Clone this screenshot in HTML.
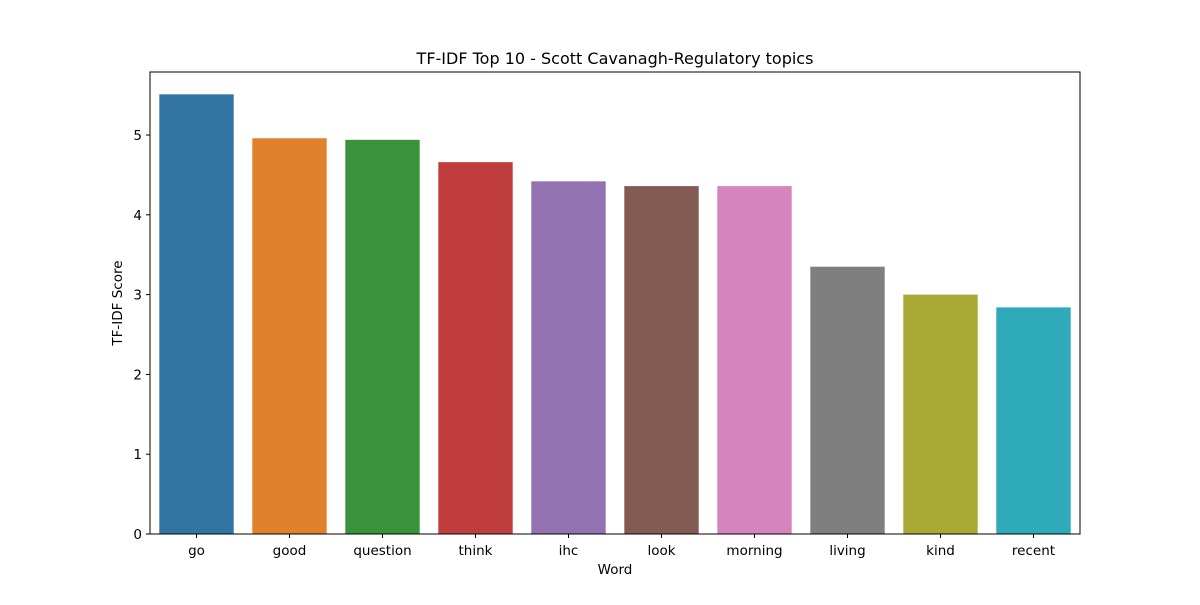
<!DOCTYPE html>
<html><head><meta charset="utf-8"><style>
body{margin:0;background:#fff;}
svg text{font-family:"DejaVu Sans","Liberation Sans",sans-serif;}
</style></head><body>
<svg id="chart" width="1200" height="600" viewBox="0 0 1200 600">
<rect x="0" y="0" width="1200" height="600" fill="#fff"/>
<g id="bars"></g><g id="xt"></g><g id="yt"></g>
<rect x="150" y="72" width="930" height="462" fill="none" stroke="#000" stroke-width="1"/>
<text x="615" y="64" text-anchor="middle" font-size="16">TF-IDF Top 10 - Scott Cavanagh-Regulatory topics</text>
<text x="615" y="574" text-anchor="middle" font-size="13.5">Word</text>
<text x="122" y="303" text-anchor="middle" font-size="13.5" transform="rotate(-90 122 303)">TF-IDF Score</text>
</svg>
<script>
const categories=["go","good","question","think","ihc","look","morning","living","kind","recent"];
const values=[5.51,4.96,4.94,4.66,4.42,4.36,4.36,3.35,3.00,2.84];
const colors=["#3274a1","#e1812c","#3a923a","#c03d3e","#9372b2","#845b53","#d684bd","#7f7f7f","#a9aa35","#2eaab8"];
const yTicks=[0,1,2,3,4,5];
const NS="http://www.w3.org/2000/svg";
const L=150,R=1080,T=72,B=534,yMax=5.79;
const y=v=>B-(v/yMax)*(B-T);
const band=(R-L)/categories.length;
const x=i=>L+band*i+band/2;
const bars=document.getElementById('bars'),xt=document.getElementById('xt'),yt=document.getElementById('yt');
categories.forEach((c,i)=>{
 const r=document.createElementNS(NS,'rect');
 r.setAttribute('x',x(i)-band*0.4);r.setAttribute('width',band*0.8);
 r.setAttribute('y',y(values[i]));r.setAttribute('height',B-y(values[i]));
 r.setAttribute('fill',colors[i]);
 
 
 bars.appendChild(r);
 const tk=document.createElementNS(NS,'line');
 tk.setAttribute('x1',x(i));tk.setAttribute('x2',x(i));tk.setAttribute('y1',B);tk.setAttribute('y2',B+4);tk.setAttribute('stroke','#000');
 
 
 xt.appendChild(tk);
 const t=document.createElementNS(NS,'text');
 t.setAttribute('x',x(i));t.setAttribute('y',B+21);t.setAttribute('text-anchor','middle');t.setAttribute('font-size','13.5');
 t.textContent=c;
 
 
 xt.appendChild(t);
});
yTicks.forEach(v=>{
 const tk=document.createElementNS(NS,'line');
 tk.setAttribute('x1',L-4);tk.setAttribute('x2',L);tk.setAttribute('y1',y(v));tk.setAttribute('y2',y(v));tk.setAttribute('stroke','#000');
 
 
 yt.appendChild(tk);
 const t=document.createElementNS(NS,'text');
 t.setAttribute('x',L-8);t.setAttribute('y',y(v)+5);t.setAttribute('text-anchor','end');t.setAttribute('font-size','13.5');
 t.textContent=v;
 
 
 yt.appendChild(t);
});
</script>
</body></html>
